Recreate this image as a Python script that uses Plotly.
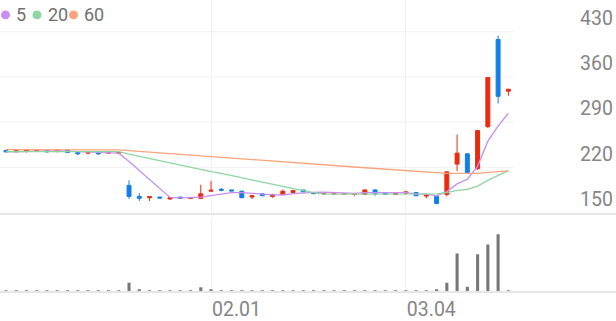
import plotly.graph_objects as go

dates = ["01.04","01.05","01.08","01.09","01.10","01.11","01.12","01.15","01.16","01.17",
         "01.18","01.19","01.22","01.23","01.24","01.25","01.26","01.29","01.30","01.31",
         "02.01","02.02","02.05","02.06","02.07","02.08","02.13","02.14","02.15","02.16",
         "02.19","02.20","02.21","02.22","02.23","02.26","02.27","02.28","02.29",
         "03.04","03.05","03.06","03.07","03.08","03.11","03.12","03.13","03.14","03.15","03.18"]

open_ = [246,244,245,246,246,245,247,243,242,243,242,242,192,175,173,174,171,174,172,172,
         183,186,185,183,174,179,175,178,181,185,181,179,179,178.5,178,178,185,180,178,180,
         181,175.5,175,178,225,241,218,283,418,338]
high = [247,247,248,248,247,248,248,243,243,243,244,243,200,180,175,174,173,174,173.5,193,
        199,188,185,184,177,179,179,185.5,185,185,181,180,180,179.5,179,185.5,186,180,180,182.5,
        181,177,175,214,271,241,277,359,424,341]
low = [243,244,243,244,243,243,243,239,240,239,242,241,171,168,168,172,170,171,171,171,
       183,183,183,172,171,176,173,178,180,182,178,177,177,178,176,178,176,178,177,178,
       175.5,172,163,175,214,211,216,281,319,331]
close = [244,246,247,247,244,247,243,241,243,241,244,243,175,172,174.5,172.5,173,172,173,179,
         184.5,184.5,183.5,173,176,176,178,183,184,182,179.5,180,180,179.5,179,185,179,178.5,179.5,182,
         176,177,164,213,242,212,277,359,330,341]

ma5 = [244,244,244.5,245,245,245.5,245,244.5,244,243,242.5,242,229,215,201.7,187.4,173.4,172.8,172.9,173.9,
       176.3,178.6,180.9,180.9,180.3,178.6,177.3,177.2,179.4,180.6,181.3,181.7,181.1,180.2,179.6,180.7,180.5,180.2,180.2,180.8,
       179,178.6,175.7,182.4,194.4,201.6,221.6,260.6,284,303.8]
ma20 = [244.5,244.5,244.5,244.5,244.6,244.6,244.6,244.5,244.5,244.4,244.4,244.3,240.5,237,233.5,230,226.5,223,219.5,216.5,
        213.5,210.5,207.5,204,200.5,197,193.5,190,187,184,181,178.5,178.6,178.7,178.8,179.1,179.2,179.3,179.4,179.6,
        179.5,179.4,178.9,181,184.5,186,191,199.8,207,215]
ma60 = [247.5,247.5,247.5,247.5,247.5,247.5,247.5,247.5,247.3,247.2,247,247,245.9,244.7,243.6,242.4,241.3,240.1,239,237.8,
        236.7,235.5,234.4,233.2,232,230.9,229.7,228.6,227.4,226.3,225.1,224,222.8,221.7,220.5,219.4,218.2,217.1,215.9,214.8,
        213.6,212.5,211.3,210.8,210.8,210.3,210.8,212.2,213.2,214.5]

volume = [20,20,20,20,20,20,20,20,20,20,20,20,830,100,30,30,30,30,30,370,
          170,30,30,30,30,30,30,30,30,30,30,30,30,30,30,30,30,30,30,30,
          30,30,100,830,3770,430,3700,4670,5700,20]

ma_periods = ["5", "20", "60"]
ma_colors = ["#c98ef0", "#8ed6a1", "#f9a47c"]
price_ticks = [150, 220, 290, 360, 430]
date_ticks = ["02.01", "03.04"]

RED = "#ec2a0e"
BLUE = "#127ee9"
GRID = "#f1f1f1"
AXIS = "#e6e6e6"
TXT = "#858585"

fig = go.Figure()

fig.add_trace(go.Candlestick(
    x=dates, open=open_, high=high, low=low, close=close,
    increasing=dict(line=dict(color=RED, width=1), fillcolor=RED),
    decreasing=dict(line=dict(color=BLUE, width=1), fillcolor=BLUE),
    whiskerwidth=0, showlegend=False, xaxis="x", yaxis="y",
))

for vals, col in zip([ma5, ma20, ma60], ma_colors):
    fig.add_trace(go.Scatter(x=dates, y=vals, mode="lines",
                             line=dict(color=col, width=1.3),
                             showlegend=False, hoverinfo="skip",
                             xaxis="x", yaxis="y"))

fig.add_trace(go.Bar(x=dates, y=volume, marker=dict(color="#777777", line=dict(width=0)),
                     width=0.3, showlegend=False, xaxis="x2", yaxis="y2"))

n = len(dates)
xr = [-0.585, 59.5]

for t in price_ticks[1:]:
    fig.add_shape(type="line", xref="x", yref="y", x0=xr[0], x1=n - 0.5, y0=t, y1=t,
                  line=dict(color=GRID, width=1), layer="below")

# legend: dot shapes + label text
W, H = 616, 293
dot_x = [5.5, 37, 73.5]
lab_x = [14, 45.5, 81.5]
yc = 15
r = 4.5
for dx, lx, lab, col in zip(dot_x, lab_x, ma_periods, ma_colors):
    fig.add_shape(type="circle", xref="paper", yref="paper",
                  x0=(dx - r) / W, x1=(dx + r) / W,
                  y0=1 - (yc + r) / H, y1=1 - (yc - r) / H,
                  fillcolor=col, line=dict(width=0))
    fig.add_annotation(xref="paper", yref="paper", x=lx / W, y=1 - yc / H,
                       xanchor="left", yanchor="middle", showarrow=False,
                       text=lab, font=dict(size=18, family="Roboto", color="#707070"))

fig.update_layout(
    width=616, height=321,
    margin=dict(l=0, r=0, t=0, b=28),
    paper_bgcolor="white", plot_bgcolor="white",
    font=dict(family="Roboto", size=19, color=TXT),
    boxgap=0.45,
    xaxis=dict(type="category", range=xr, domain=[0, 1], anchor="y",
               tickvals=date_ticks, showticklabels=False, showgrid=True, gridcolor=GRID,
               gridwidth=1, showline=True, linecolor=AXIS, linewidth=2,
               rangeslider=dict(visible=False), zeroline=False, ticks=""),
    yaxis=dict(domain=[79 / 293, 1], range=[150, 479.2], side="right",
               tickvals=price_ticks, showgrid=False, zeroline=False,
               ticklabelposition="inside top", ticks="",
               tickfont=dict(size=19.5, color=TXT)),
    xaxis2=dict(type="category", range=xr, domain=[0, 1], anchor="y2", matches="x",
                tickvals=date_ticks, ticktext=date_ticks, showgrid=True, gridcolor=GRID,
                showline=True, linecolor=AXIS, linewidth=2, zeroline=False, ticks="",
                ticklabelposition="outside right",
                tickfont=dict(size=19.5, color=TXT)),
    yaxis2=dict(domain=[0, 0.25], range=[0, 7300], visible=False),
    bargap=0.7,
)

fig.write_html("out.html")
